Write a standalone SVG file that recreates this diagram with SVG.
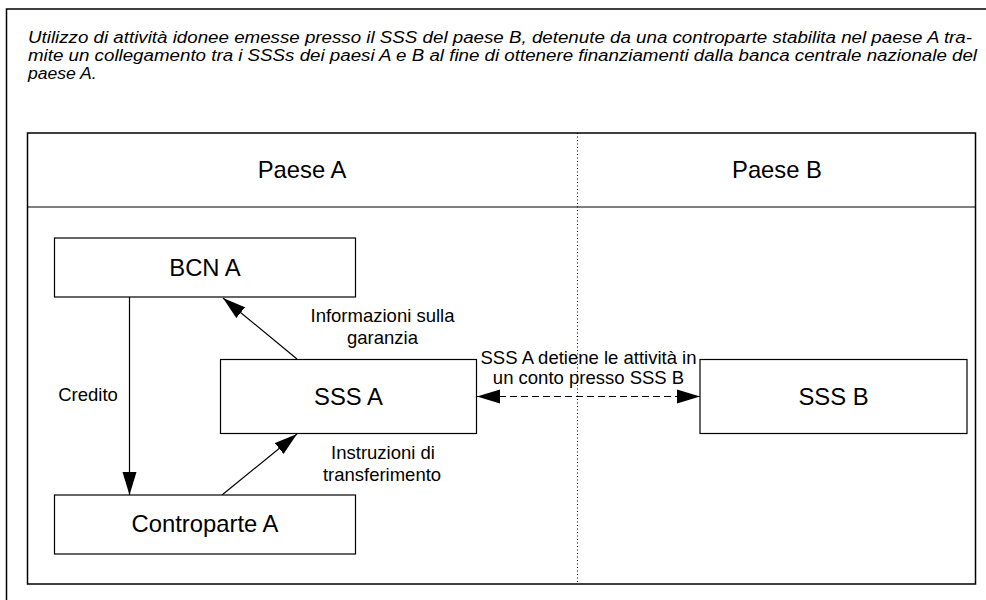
<svg xmlns="http://www.w3.org/2000/svg" width="986" height="600" viewBox="0 0 986 600">
<style>
.frame{fill:none;stroke:#000;stroke-width:1.5}
.box{fill:#fff;stroke:#000;stroke-width:1.2}
.title{font-family:"Liberation Sans",Arial,sans-serif;font-style:italic;font-size:16px;fill:#000}
.node{font-family:"Liberation Sans",Arial,sans-serif;font-size:23.8px;fill:#000;text-anchor:middle}
.lbl{font-family:"Liberation Sans",Arial,sans-serif;font-size:18.5px;fill:#000;text-anchor:middle}
.edge{fill:none;stroke:#000;stroke-width:1.2}
</style>
<defs>
<marker id="arr" markerUnits="userSpaceOnUse" markerWidth="24" markerHeight="15" refX="23" refY="7.5" orient="auto-start-reverse">
<path d="M0,0.5 L23,7.5 L0,14.5 z" fill="#000"/>
</marker>
</defs>
<rect width="986" height="600" fill="#fff"/>
<path class="frame" d="M6.5,600 V9 H986"/>
<g id="title">
<text class="title" x="28" y="42.5" textLength="944" lengthAdjust="spacingAndGlyphs">Utilizzo di attività idonee emesse presso il SSS del paese B, detenute da una controparte stabilita nel paese A tra-</text>
<text class="title" x="28" y="60.5" textLength="949" lengthAdjust="spacingAndGlyphs">mite un collegamento tra i SSSs dei paesi A e B al fine di ottenere finanziamenti dalla banca centrale nazionale del</text>
<text class="title" x="28" y="78.5" textLength="68.6" lengthAdjust="spacingAndGlyphs">paese A.</text>
</g>
<g id="panel">
<rect class="frame" x="27.5" y="133" width="948" height="451"/>
<line x1="27.5" y1="207" x2="975.5" y2="207" stroke="#000" stroke-width="1.2"/>
<line x1="577.5" y1="133" x2="577.5" y2="584" stroke="#000" stroke-width="1" stroke-dasharray="1 2.5"/>
<text class="node" x="302" y="178">Paese A</text>
<text class="node" x="777" y="178">Paese B</text>
</g>
<g id="connectors">
<line class="edge" x1="129.5" y1="297" x2="129.5" y2="495" marker-end="url(#arr)"/>
<line class="edge" x1="297" y1="359" x2="223" y2="298" marker-end="url(#arr)"/>
<line class="edge" x1="222" y1="495" x2="297" y2="434" marker-end="url(#arr)"/>
<line class="edge" x1="477" y1="396.5" x2="700" y2="396.5" stroke-dasharray="7 4" marker-start="url(#arr)" marker-end="url(#arr)"/>
<text class="lbl" x="88" y="401">Credito</text>
<text class="lbl" x="382.5" y="322">Informazioni sulla</text>
<text class="lbl" x="382.5" y="343.5">garanzia</text>
<text class="lbl" x="383" y="459">Instruzioni di</text>
<text class="lbl" x="382" y="480.5">transferimento</text>
<text class="lbl" x="588.5" y="364">SSS A detiene le attività in</text>
<text class="lbl" x="588.5" y="384">un conto presso SSS B</text>
</g>
<g id="bcn-a">
<rect class="box" x="54.5" y="238" width="301" height="59"/>
<text class="node" x="205" y="275.5">BCN A</text>
</g>
<g id="sss-a">
<rect class="box" x="220.5" y="359.5" width="256" height="74"/>
<text class="node" x="348.5" y="404.5">SSS A</text>
</g>
<g id="sss-b">
<rect class="box" x="700" y="359.5" width="267" height="74"/>
<text class="node" x="833.5" y="404.5">SSS B</text>
</g>
<g id="controparte-a">
<rect class="box" x="54.5" y="495" width="301" height="59"/>
<text class="node" x="205" y="531.5">Controparte A</text>
</g>
</svg>
